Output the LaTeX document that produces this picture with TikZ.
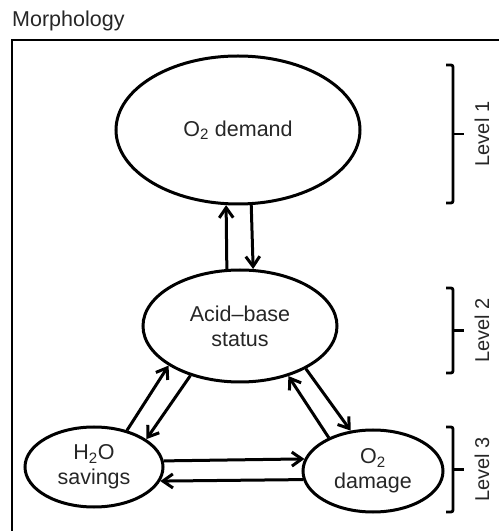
\documentclass[tikz,border=0pt]{standalone}
\usepackage{fontspec}
\setmainfont{Liberation Sans}
\usetikzlibrary{arrows.meta,shapes.geometric}

\begin{document}
\begin{tikzpicture}[x=1pt,y=1pt,
		>={Straight Barb[length=10pt,width=14pt]},
	]

	\tikzset{state/.style={
				ellipse,draw,line width=3pt,inner sep=0pt,
				text=black!85,align=center,
				font=\fontsize{21.5}{25}\selectfont}
	}
	\tikzset{link/.style={
				->,line width=3pt}
	}
	\tikzset{level brace/.style={
				line width=2.8pt,rounded corners=2pt}
	}
	\tikzset{level label/.style={
				rotate=90,text=black!85,inner sep=0pt,
				font=\fontsize{20}{22}\selectfont}
	}

	\useasboundingbox (0,0) rectangle (499,531);

	\node[anchor=base west,inner sep=0pt,text=black!85,font=\fontsize{21.5}{25}\selectfont] (title) at (12,504) {Morphology};
	\draw[line width=2.4pt] (12,0) -- (12,491) -- (499,491);

	\node[state,minimum width=244pt,minimum height=148pt] (demand) at (238,401) {O\textsubscript{2} demand};
	\node[state,minimum width=194pt,minimum height=112pt] (acid) at (240,205) {Acid--base\\status};
	\node[state,minimum width=138pt,minimum height=80pt] (water) at (94,64) {H\textsubscript{2}O\\savings};
	\node[state,minimum width=140pt,minimum height=82pt] (damage) at (373,60) {O\textsubscript{2}\\damage};

	% level 1 <-> level 2
	\draw[link] (acid.103) -- (demand.261.5);
	\draw[link] (demand.280.8) -- (acid.77.8);

	% level 2 <-> level 3
	\draw[link] (water.48.3) -- (acid.209.1);
	\draw[link] (acid.225.6) -- (water.28.2);
	\draw[link] (damage.143.7) -- (acid.314.4);
	\draw[link] (acid.327.9) -- (damage.119.3);

	% within level 3
	\draw[link] (water.5.9) -- (damage.170.7);
	\draw[link] (damage.187.5) -- (water.348.7);

	% levels on the right
	\foreach \n/\top/\bot in {1/466/328, 2/243/158, 3/104/19} {
			\draw[level brace] (446,\top) -- (453,\top) -- (453,\bot) -- (446,\bot);
			\draw[line width=2.8pt] (453,{(\top+\bot)/2}) -- (464,{(\top+\bot)/2});
			\node[level label] (level\n) at (482,{(\top+\bot)/2}) {Level \n};
		}

\end{tikzpicture}
\end{document}
